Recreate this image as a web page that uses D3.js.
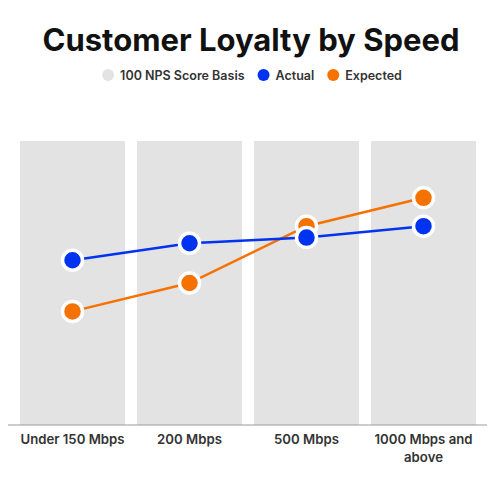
<!DOCTYPE html>
<html lang="en">
<head>
    <meta charset="UTF-8">
    <title>Customer Loyalty by Speed</title>
    <script src="https://d3js.org/d3.v7.min.js"></script>
    <style>
        body { margin: 0; background: #fff; font-family: Inter, "Open Sans", sans-serif; }
        svg { display: block; }
        .title { font-size: 31px; font-weight: 700; fill: #111; }
        .legend text { font-size: 12.5px; font-weight: 600; fill: #333; }
        .x-label { font-size: 13.2px; font-weight: 600; fill: #333; }
    </style>
</head>
<body>
    <svg id="chart"></svg>
    <script>
        const categories = ["Under 150 Mbps", "200 Mbps", "500 Mbps", "1000 Mbps and above"];
        const basis = [100, 100, 100, 100];
        const actual = [58, 64, 66, 70];
        const expected = [40, 50, 70, 80];

        const W = 500, H = 500;
        const svg = d3.select("#chart").attr("width", W).attr("height", H);

        const x = d3.scaleBand().domain(categories).range([14, 482]).paddingInner(12 / 117).paddingOuter(6 / 117);
        const y = d3.scaleLinear().domain([0, 100]).range([425, 141]);

        svg.append("text")
           .attr("class", "title")
           .attr("x", W / 2 + 1)
           .attr("y", 51)
           .attr("text-anchor", "middle")
           .text("Customer Loyalty by Speed");

        // legend, laid out from measured text widths then centred
        const legendItems = [
            {label: "100 NPS Score Basis", color: "#e3e3e3"},
            {label: "Actual", color: "#0033f0"},
            {label: "Expected", color: "#f57200"}
        ];
        const lg = svg.append("g").attr("class", "legend");
        let cursor = 0;
        legendItems.forEach(d => {
            const item = lg.append("g");
            item.append("circle").attr("cx", cursor + 6).attr("cy", 75).attr("r", 6).attr("fill", d.color);
            const t = item.append("text").attr("x", cursor + 18).attr("y", 79.5).text(d.label);
            cursor += 18 + t.node().getComputedTextLength() + 13;
        });
        const legendW = cursor - 13;
        lg.attr("transform", `translate(${252 - legendW / 2},0)`);

        // basis bars
        svg.selectAll(".bar")
           .data(basis)
           .enter()
           .append("rect")
           .attr("class", "bar")
           .attr("x", (d, i) => x(categories[i]))
           .attr("y", d => y(d))
           .attr("width", x.bandwidth())
           .attr("height", d => y(0) - y(d))
           .attr("fill", "#e3e3e3");

        // axis
        svg.append("line")
           .attr("x1", 8).attr("x2", 487)
           .attr("y1", y(0)).attr("y2", y(0))
           .attr("stroke", "#9a9a9a").attr("stroke-width", 1);

        const labels = svg.selectAll(".x-label")
           .data(categories)
           .enter()
           .append("text")
           .attr("class", "x-label")
           .attr("text-anchor", "middle")
           .attr("y", 444);
        labels.each(function(d) {
            const t = d3.select(this);
            const cx = x(d) + x.bandwidth() / 2;
            const lines = d === "1000 Mbps and above" ? ["1000 Mbps and", "above"] : [d];
            lines.forEach((l, k) => {
                t.append("tspan").attr("x", cx).attr("dy", k ? 18 : 0).text(l);
            });
        });

        const cxOf = (d, i) => x(categories[i]) + x.bandwidth() / 2;
        const line = d3.line().x(cxOf).y(d => y(d));

        const series = [
            {values: expected, color: "#f57200"},
            {values: actual, color: "#0033f0"}
        ];

        series.forEach(s => {
            svg.append("path")
               .datum(s.values)
               .attr("d", line)
               .attr("fill", "none")
               .attr("stroke", s.color)
               .attr("stroke-width", 2.5);
        });
        series.forEach(s => {
            svg.append("g").selectAll("circle")
               .data(s.values)
               .enter()
               .append("circle")
               .attr("cx", cxOf)
               .attr("cy", d => y(d))
               .attr("r", 10)
               .attr("fill", s.color)
               .attr("stroke", "#fff")
               .attr("stroke-width", 3.5);
        });
    </script>
</body>
</html>
